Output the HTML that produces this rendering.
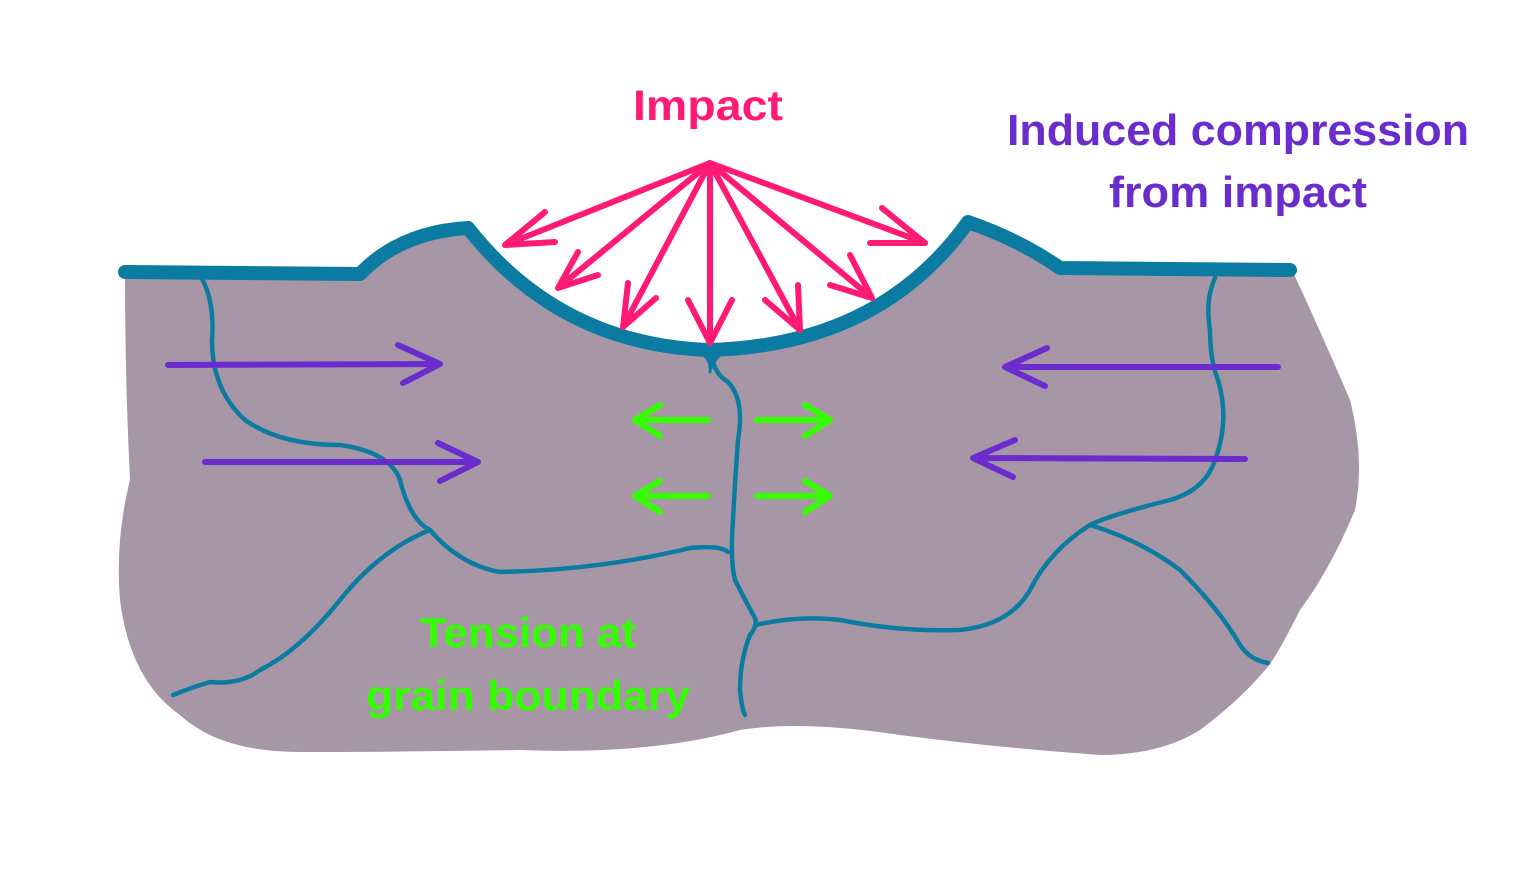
<!DOCTYPE html>
<html><head><meta charset="utf-8"><style>
html,body{margin:0;padding:0;background:#fff;}
svg{display:block}
text{font-family:"Liberation Sans",sans-serif;font-weight:bold;text-anchor:middle}
</style></head><body>
<svg width="1533" height="871" viewBox="0 0 1533 871" xmlns="http://www.w3.org/2000/svg">
<path d="M125,272 L360,272 Q400,232 468,228 Q560,345 710,350 Q880,345 968,222 Q1020,240 1060,268 L1292,270 Q1320,330 1350,400 Q1365,460 1355,510 Q1330,570 1300,610 Q1275,660 1265,670 Q1240,700 1200,730 Q1160,755 1100,755 Q1000,748 900,735 Q800,720 740,730 Q650,755 520,750 Q400,752 300,752 Q220,752 180,715 Q130,680 120,600 Q115,540 130,480 Q125,380 125,272 Z" fill="#a797a6"/>
<g fill="none" stroke="#0b7ba1" stroke-linecap="round" stroke-linejoin="round">
<path d="M125,272 L360,274 Q400,232 468,228 Q560,345 710,350 Q880,345 968,222 Q1020,240 1060,268 L1290,270" stroke-width="14"/>
<g stroke-width="4.5">
<path d="M200,275 Q215,300 212,340 Q212,390 245,420 Q280,445 340,445 Q390,452 400,480 Q410,520 430,530 Q460,565 500,572 Q600,570 690,548 Q720,545 728,552"/>
<path d="M430,530 Q380,550 340,600 Q300,650 260,670 Q240,685 210,682 Q190,688 173,695"/>
<path d="M712,352 Q712,372 728,382 Q745,400 738,440 Q735,480 733,520 Q730,560 735,580 Q745,600 755,618 Q758,625 750,635 Q740,660 740,690 Q742,710 745,715"/>
<path d="M755,625 Q800,615 840,620 Q900,632 960,630 Q1010,625 1030,590 Q1050,550 1090,525"/>
<path d="M1215,278 Q1205,300 1210,330 Q1210,360 1218,380 Q1230,420 1215,460 Q1205,490 1170,500 Q1110,515 1090,525 Q1140,540 1180,570 Q1220,610 1240,645 Q1250,660 1268,663"/>
</g>
<path d="M700,352 Q712,360 710,372 Q712,360 724,352 Z" fill="#0b7ba1" stroke-width="3"/>
</g>
<g stroke="#ff1a75" stroke-width="6" fill="none" stroke-linecap="round" stroke-linejoin="round">
<path d="M710,163 L505,245 M505,245 L545,212 M505,245 L555,242"/>
<path d="M710,163 L558,288 M558,288 L578,252 M558,288 L598,275"/>
<path d="M710,163 L623,327 M623,327 L628,283 M623,327 L656,298"/>
<path d="M710,163 L710,343 M710,343 L688,300 M710,343 L732,300"/>
<path d="M710,163 L800,330 M800,330 L765,300 M800,330 L798,285"/>
<path d="M710,163 L872,298 M872,298 L830,285 M872,298 L850,255"/>
<path d="M710,163 L925,243 M925,243 L870,243 M925,243 L882,208"/>
</g>
<g stroke="#6a2ccc" stroke-width="6" fill="none" stroke-linecap="round" stroke-linejoin="round">
<path d="M168,365 L440,364 M440,364 L398,345 M440,364 L403,383"/>
<path d="M205,462 L478,462 M478,462 L438,443 M478,462 L440,481"/>
<path d="M1278,367 L1005,367 M1005,367 L1047,348 M1005,367 L1045,386"/>
<path d="M1245,459 L973,458 M973,458 L1015,440 M973,458 L1013,477"/>
</g>
<g stroke="#33ff00" stroke-width="6" fill="none" stroke-linecap="round" stroke-linejoin="round">
<path d="M708,420 L635,420 M635,420 L660,405 M635,420 L660,436"/>
<path d="M757,420 L830,420 M830,420 L805,405 M830,420 L805,436"/>
<path d="M708,496 L635,496 M635,496 L660,481 M635,496 L660,512"/>
<path d="M757,496 L830,496 M830,496 L805,481 M830,496 L805,512"/>
</g>
<text x="708" y="120" font-size="43" fill="#ff1a75" textLength="150" lengthAdjust="spacingAndGlyphs">Impact</text>
<text x="1238" y="145" font-size="44" fill="#6a2ccc" textLength="462" lengthAdjust="spacingAndGlyphs">Induced compression</text>
<text x="1238" y="207" font-size="44" fill="#6a2ccc" textLength="258" lengthAdjust="spacingAndGlyphs">from impact</text>
<text x="528" y="647" font-size="42" fill="#33ff00" textLength="216" lengthAdjust="spacingAndGlyphs">Tension at</text>
<text x="528" y="710" font-size="42" fill="#33ff00" textLength="324" lengthAdjust="spacingAndGlyphs">grain boundary</text>
</svg>
</body></html>
